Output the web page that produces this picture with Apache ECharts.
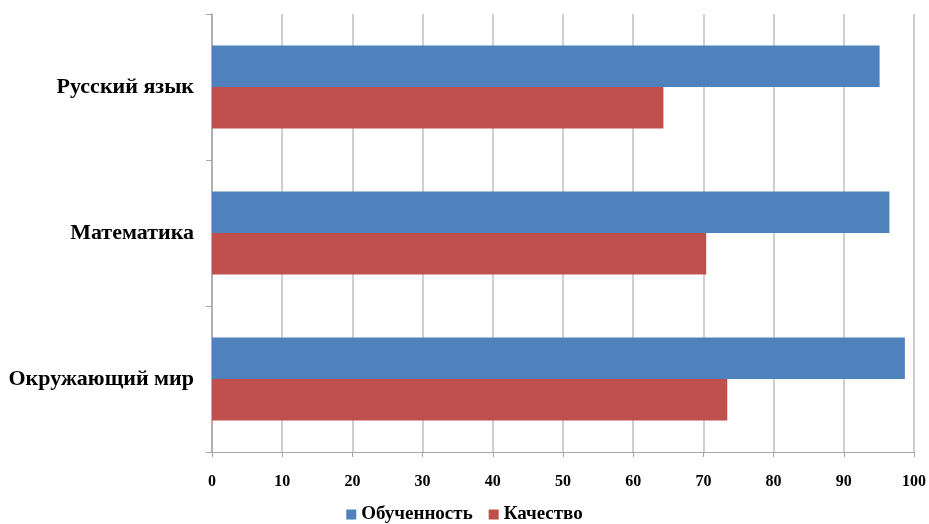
<!DOCTYPE html>
<html>
<head>
<meta charset="utf-8">
<script src="https://cdn.jsdelivr.net/npm/echarts@6/dist/echarts.min.js"></script>
<style>html,body{margin:0;padding:0;background:#fff;}#c{width:929px;height:524px;}</style>
</head>
<body>
<div id="c"></div>
<script>
const categories = ['Русский язык', 'Математика', 'Окружающий мир'];
const seriesNames = ['Обученность', 'Качество'];
const obuchennost = [95.1, 96.5, 98.7];
const kachestvo = [64.3, 70.4, 73.4];
const xTicks = [0, 10, 20, 30, 40, 50, 60, 70, 80, 90, 100];

const font = '"Liberation Serif", "Times New Roman", serif';
const chart = echarts.init(document.getElementById('c'));
chart.setOption({
  animation: false,
  backgroundColor: '#fff',
  grid: { left: 212, right: 15, top: 14, bottom: 72, containLabel: false },
  legend: {
    data: seriesNames,
    top: 505,
    left: 'center',
    padding: 0,
    itemWidth: 10,
    itemHeight: 10,
    itemGap: 16,
    icon: 'rect',
    textStyle: { fontFamily: font, fontWeight: 'bold', fontSize: 19, color: '#000' }
  },
  xAxis: {
    type: 'value',
    min: xTicks[0],
    max: xTicks[xTicks.length - 1],
    interval: 10,
    axisLine: { show: true, lineStyle: { color: '#a6a6a6', width: 1 } },
    axisTick: { show: true, length: 5, lineStyle: { color: '#a6a6a6' } },
    axisLabel: { margin: 22, fontFamily: font, fontWeight: 'bold', fontSize: 16, color: '#000' },
    splitLine: { show: true, lineStyle: { color: '#bfbfbf', width: 1.5 } }
  },
  yAxis: {
    type: 'category',
    data: categories,
    inverse: true,
    axisLine: { show: true, lineStyle: { color: '#a6a6a6', width: 1.5 } },
    axisTick: { show: true, length: 6, lineStyle: { color: '#a6a6a6' } },
    axisLabel: { margin: 18, fontFamily: font, fontWeight: 'bold', fontSize: 22, color: '#000' }
  },
  series: [
    { name: seriesNames[0], type: 'bar', data: obuchennost, itemStyle: { color: '#4F81BD' }, barGap: '0%', barCategoryGap: '43%' },
    { name: seriesNames[1], type: 'bar', data: kachestvo, itemStyle: { color: '#C0504D' }, barGap: '0%', barCategoryGap: '43%' }
  ]
});
</script>
</body>
</html>
